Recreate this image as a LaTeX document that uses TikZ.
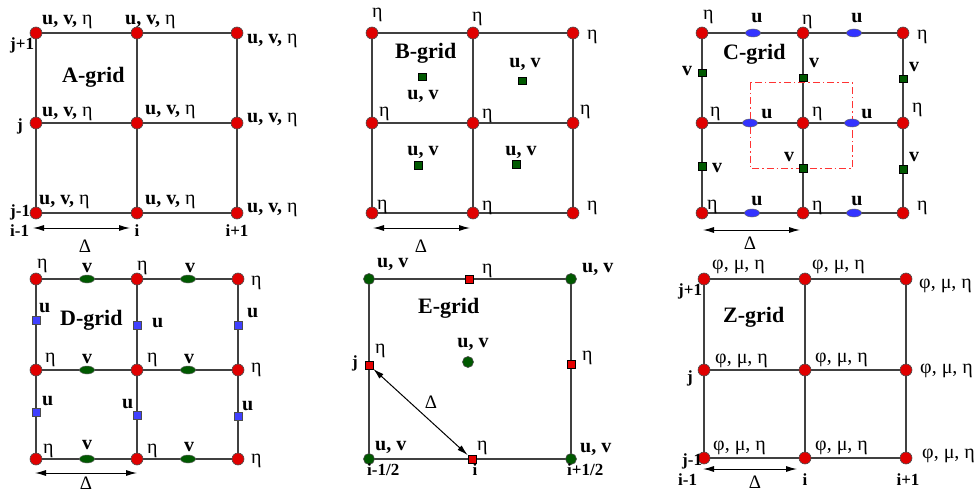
\documentclass[tikz,border=0pt]{standalone}
\usepackage{fontspec}
\setmainfont{Liberation Serif}
\usetikzlibrary{arrows.meta,shapes.geometric,backgrounds}
\newcommand{\etaT}{{\mdseries η}}
\begin{document}
\begin{tikzpicture}[x=1pt,y=-1pt,
  gl/.style={draw=black!75, line width=1.3pt},
  rdot/.style={circle, fill=red!88!black, draw=black!70, line width=0.6pt, minimum size=12pt, inner sep=0pt},
  gdot/.style={circle, fill=green!35!black, draw=black!70, line width=0.6pt, minimum size=11pt, inner sep=0pt},
  gsq/.style={rectangle, fill=green!35!black, draw=black, line width=0.5pt, minimum size=7.5pt, inner sep=0pt},
  rsq/.style={rectangle, fill=red!90!black, draw=black, line width=0.5pt, minimum size=8pt, inner sep=0pt},
  bsq/.style={rectangle, fill=blue!75, draw=black!70, line width=0.5pt, minimum size=7.5pt, inner sep=0pt},
  bell/.style={ellipse, fill=blue!80, draw=black!60, line width=0.5pt, minimum width=15pt, minimum height=8pt, inner sep=0pt},
  gell/.style={ellipse, fill=green!35!black, draw=black!60, line width=0.5pt, minimum width=15pt, minimum height=8pt, inner sep=0pt},
  lbl/.style={font=\fontsize{20}{20}\selectfont\bfseries, inner sep=0pt},
  rlbl/.style={font=\fontsize{20}{20}\selectfont, inner sep=0pt},
  idx/.style={font=\fontsize{17}{17}\selectfont\bfseries, inner sep=0pt},
  ttl/.style={font=\fontsize{22}{22}\selectfont\bfseries, inner sep=0pt},
  dlt/.style={font=\fontsize{19}{19}\selectfont, inner sep=0pt},
  dim/.style={line width=1pt, {Latex[length=11pt,width=6pt]}-{Latex[length=11pt,width=6pt]}},
  box/.style={draw=red!80!white, line width=1pt, dash pattern=on 7pt off 3pt on 1.5pt off 3pt}
]
\useasboundingbox (0,0) rectangle (979,492);

% ================= A-grid =================
\foreach \i/\x in {1/36,2/137,3/237} \foreach \j/\y in {1/33,2/123,3/213}
  \node[rdot] (A\i\j) at (\x,\y) {};
\begin{scope}[on background layer]
  \foreach \j in {1,2,3} \draw[gl] (A1\j.center) -- (A3\j.center);
  \foreach \i in {1,2,3} \draw[gl] (A\i1.center) -- (A\i3.center);
\end{scope}
\foreach \p in {(42,25),(125,25),(247,44),(42,117),(145,115),(247,122),(39,204),(145,204),(247,212)}
  \node[lbl,anchor=base west] at \p {u, v, \etaT};
\node[idx,anchor=base west] at (10,50) {j+1};
\node[idx,anchor=base west] at (17,130) {j};
\node[idx,anchor=base west] at (10,216) {j-1};
\node[idx,anchor=base west] at (10,236) {i-1};
\node[idx,anchor=base] at (137,236) {i};
\node[idx,anchor=base] at (237,236) {i+1};
\node[ttl,anchor=base west] at (62,83) {A-grid};
\coordinate (Aa) at (33,228); \coordinate (Ab) at (130,228);
\draw[dim] (Aa) -- (Ab);
\node[dlt] at (85,246) {Δ};

% ================= B-grid =================
\foreach \i/\x in {1/372,2/473,3/573} \foreach \j/\y in {1/33,2/123,3/213}
  \node[rdot] (B\i\j) at (\x,\y) {};
\begin{scope}[on background layer]
  \foreach \j in {1,2,3} \draw[gl] (B1\j.center) -- (B3\j.center);
  \foreach \i in {1,2,3} \draw[gl] (B\i1.center) -- (B\i3.center);
\end{scope}
\foreach \p in {(372,18),(472,22),(587,40),(379,117),(482,118),(580,114),(377,209),(482,210),(587,210)}
  \node[rlbl,anchor=base west] at \p {η};
\node[gsq] (Bs1) at (422,77) {};
\node[gsq] (Bs2) at (522,81) {};
\node[gsq] (Bs3) at (418,165) {};
\node[gsq] (Bs4) at (516,164) {};
\foreach \p in {(423,100),(525,68),(423,155),(521,155)}
  \node[lbl,anchor=base] at \p {u, v};
\node[ttl,anchor=base west] at (395,59) {B-grid};
\coordinate (Ba) at (373,228); \coordinate (Bb) at (470,228);
\draw[dim] (Ba) -- (Bb);
\node[dlt] at (421,246) {Δ};

% ================= C-grid =================
\foreach \i/\x in {1/702,2/803,3/903} \foreach \j/\y in {1/33,2/123,3/213}
  \node[rdot] (C\i\j) at (\x,\y) {};
\begin{scope}[on background layer]
  \foreach \j in {1,2,3} \draw[gl] (C1\j.center) -- (C3\j.center);
  \foreach \i in {1,2,3} \draw[gl] (C\i1.center) -- (C\i3.center);
\end{scope}
\foreach \p in {(703,20),(802,25),(917,40),(710,117),(812,117),(912,113),(707,209),(812,210),(917,210)}
  \node[rlbl,anchor=base west] at \p {η};
\draw[box] (750,83) rectangle (852,168);
\node[bell] (Cu1) at (753,33) {};
\node[bell] (Cu2) at (854,33) {};
\node[bell] (Cu3) at (750,123) {};
\node[bell] (Cu4) at (852,123) {};
\node[bell] (Cu5) at (752,213) {};
\node[bell] (Cu6) at (854,213) {};
\foreach \p in {(757,23),(857,23),(767,118),(867,118),(757,205),(857,205)}
  \node[lbl,anchor=base] at \p {u};
\node[gsq] (Cv1) at (702,73) {};
\node[gsq] (Cv2) at (702,166) {};
\node[gsq] (Cv3) at (803,78) {};
\node[gsq] (Cv4) at (803,168) {};
\node[gsq] (Cv5) at (903,79) {};
\node[gsq] (Cv6) at (903,169) {};
\foreach \p in {(687,76),(717,172),(814,68),(789,161),(914,72),(914,161)}
  \node[lbl,anchor=base] at \p {v};
\node[ttl,anchor=base west] at (723,60) {C-grid};
\coordinate (Ca) at (703,230); \coordinate (Cb) at (800,230);
\draw[dim] (Ca) -- (Cb);
\node[dlt] at (750,243) {Δ};

% ================= D-grid =================
\foreach \i/\x in {1/36,2/137,3/238} \foreach \j/\y in {1/279,2/370,3/459}
  \node[rdot] (D\i\j) at (\x,\y) {};
\begin{scope}[on background layer]
  \foreach \j in {1,2,3} \draw[gl] (D1\j.center) -- (D3\j.center);
  \foreach \i in {1,2,3} \draw[gl] (D\i1.center) -- (D\i3.center);
\end{scope}
\foreach \p in {(37,268),(137,270),(251,285),(45,362),(147,362),(251,372),(43,453),(147,453),(251,463)}
  \node[rlbl,anchor=base west] at \p {η};
\node[gell] (Dv1) at (87,279) {};
\node[gell] (Dv2) at (188,279) {};
\node[gell] (Dv3) at (87,370) {};
\node[gell] (Dv4) at (188,370) {};
\node[gell] (Dv5) at (87,459) {};
\node[gell] (Dv6) at (188,459) {};
\foreach \p in {(87,272),(190,272),(87,363),(189,363),(87,449),(189,451)}
  \node[lbl,anchor=base] at \p {v};
\node[bsq] (Du1) at (36,320) {};
\node[bsq] (Du2) at (36,412) {};
\node[bsq] (Du3) at (137,325) {};
\node[bsq] (Du4) at (137,415) {};
\node[bsq] (Du5) at (238,325) {};
\node[bsq] (Du6) at (238,416) {};
\foreach \p in {(39,312),(152,327),(247,317),(42,405),(122,408),(242,410)}
  \node[lbl,anchor=base west] at \p {u};
\node[ttl,anchor=base west] at (60,325) {D-grid};
\coordinate (Da) at (35,473); \coordinate (Db) at (137,473);
\draw[dim] (Da) -- (Db);
\node[dlt] at (86,483) {Δ};

% ================= E-grid =================
\node[gdot] (E11) at (369,279) {};
\node[gdot] (E21) at (571,279) {};
\node[gdot] (E12) at (369,459) {};
\node[gdot] (E22) at (571,459) {};
\node[gdot] (Ec) at (468,362) {};
\node[rsq] (Et) at (469,279) {};
\node[rsq] (Ej) at (369,365) {};
\node[rsq] (Er) at (571,364) {};
\node[rsq] (Ei) at (472,459) {};
\begin{scope}[on background layer]
  \draw[gl] (E11.center) -- (E21.center) -- (E22.center) -- (E12.center) -- cycle;
\end{scope}
\foreach \p in {(377,267),(582,272),(375,450),(580,452)}
  \node[lbl,anchor=base west] at \p {u, v};
\node[lbl,anchor=base] at (473,347) {u, v};
\foreach \p in {(482,273),(375,353),(582,360),(477,450)}
  \node[rlbl,anchor=base west] at \p {η};
\node[idx,anchor=base west] at (352,367) {j};
\node[idx,anchor=base west] at (367,475) {i-1/2};
\node[idx,anchor=base] at (475,475) {i};
\node[idx,anchor=base west] at (567,475) {i+1/2};
\node[ttl,anchor=base west] at (418,313) {E-grid};
\draw[dim] (Ej) -- (Ei);
\node[dlt] at (431,402) {Δ};

% ================= Z-grid =================
\foreach \i/\x in {1/704,2/805,3/906} \foreach \j/\y in {1/279,2/370,3/458}
  \node[rdot] (Z\i\j) at (\x,\y) {};
\begin{scope}[on background layer]
  \foreach \j in {1,2,3} \draw[gl] (Z1\j.center) -- (Z3\j.center);
  \foreach \i in {1,2,3} \draw[gl] (Z\i1.center) -- (Z\i3.center);
\end{scope}
\foreach \p in {(712,269),(812,269),(919,288),(715,363),(815,362),(920,373),(713,450),(815,450),(922,458)}
  \node[rlbl,anchor=base west] at \p {φ, μ, η};
\node[idx,anchor=base west] at (678,295) {j+1};
\node[idx,anchor=base west] at (687,382) {j};
\node[idx,anchor=base west] at (682,465) {j-1};
\node[idx,anchor=base west] at (678,485) {i-1};
\node[idx,anchor=base] at (805,485) {i};
\node[idx,anchor=base] at (908,485) {i+1};
\node[ttl,anchor=base west] at (723,322) {Z-grid};
\coordinate (Za) at (703,469); \coordinate (Zb) at (797,469);
\draw[dim] (Za) -- (Zb);
\node[dlt] at (755,482) {Δ};
\end{tikzpicture}
\end{document}
